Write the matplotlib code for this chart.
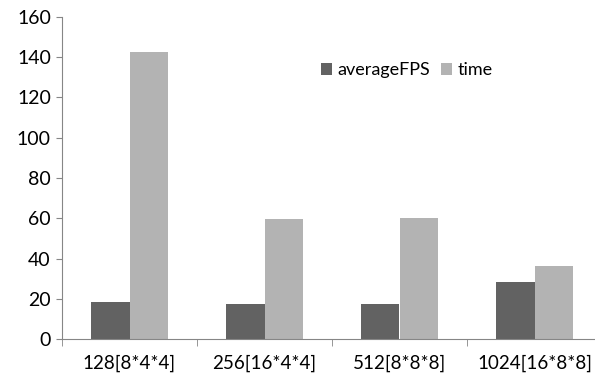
import numpy as np
import matplotlib.pyplot as plt

categories = ["128[8*4*4]", "256[16*4*4]", "512[8*8*8]", "1024[16*8*8]"]
average_fps = [18.5, 17.3, 17.3, 28.2]
time_vals = [142.8, 59.8, 60.2, 36.2]

plt.rcParams['font.family'] = ['Lato', 'DejaVu Sans']

fig = plt.figure(figsize=(5.95, 3.78), dpi=100)
ax = fig.add_axes([62 / 595, 39 / 378, 540 / 595, 322 / 378])

x = np.arange(len(categories))
w = 0.285
ax.bar(x - w / 2, average_fps, w, color='#626262', label='averageFPS')
ax.bar(x + w / 2, time_vals, w, color='#b3b3b3', label='time')

ax.set_xlim(-0.5, len(categories) - 0.5)
ax.set_ylim(0, 160)
ax.set_yticks(range(0, 161, 20))
ax.set_xticks(x)
ax.set_xticklabels(categories)
ax.set_xticks(np.arange(-0.5, len(categories), 1), minor=True)
ax.tick_params(axis='x', which='major', length=0, pad=11, labelsize=13.5)
ax.tick_params(axis='x', which='minor', length=5, color='#868686', direction='out')
ax.tick_params(axis='y', length=4, color='#868686', labelsize=14, pad=4)

for s in ['top', 'right']:
    ax.spines[s].set_visible(False)
for s in ['left', 'bottom']:
    ax.spines[s].set_color('#868686')

ax.legend(loc='upper left', bbox_to_anchor=(0.45, 0.91), ncol=2, frameon=False,
          fontsize=13, handlelength=0.6, handleheight=0.6, handletextpad=0.3,
          columnspacing=0.6)

fig.savefig('out.png', dpi=100)
